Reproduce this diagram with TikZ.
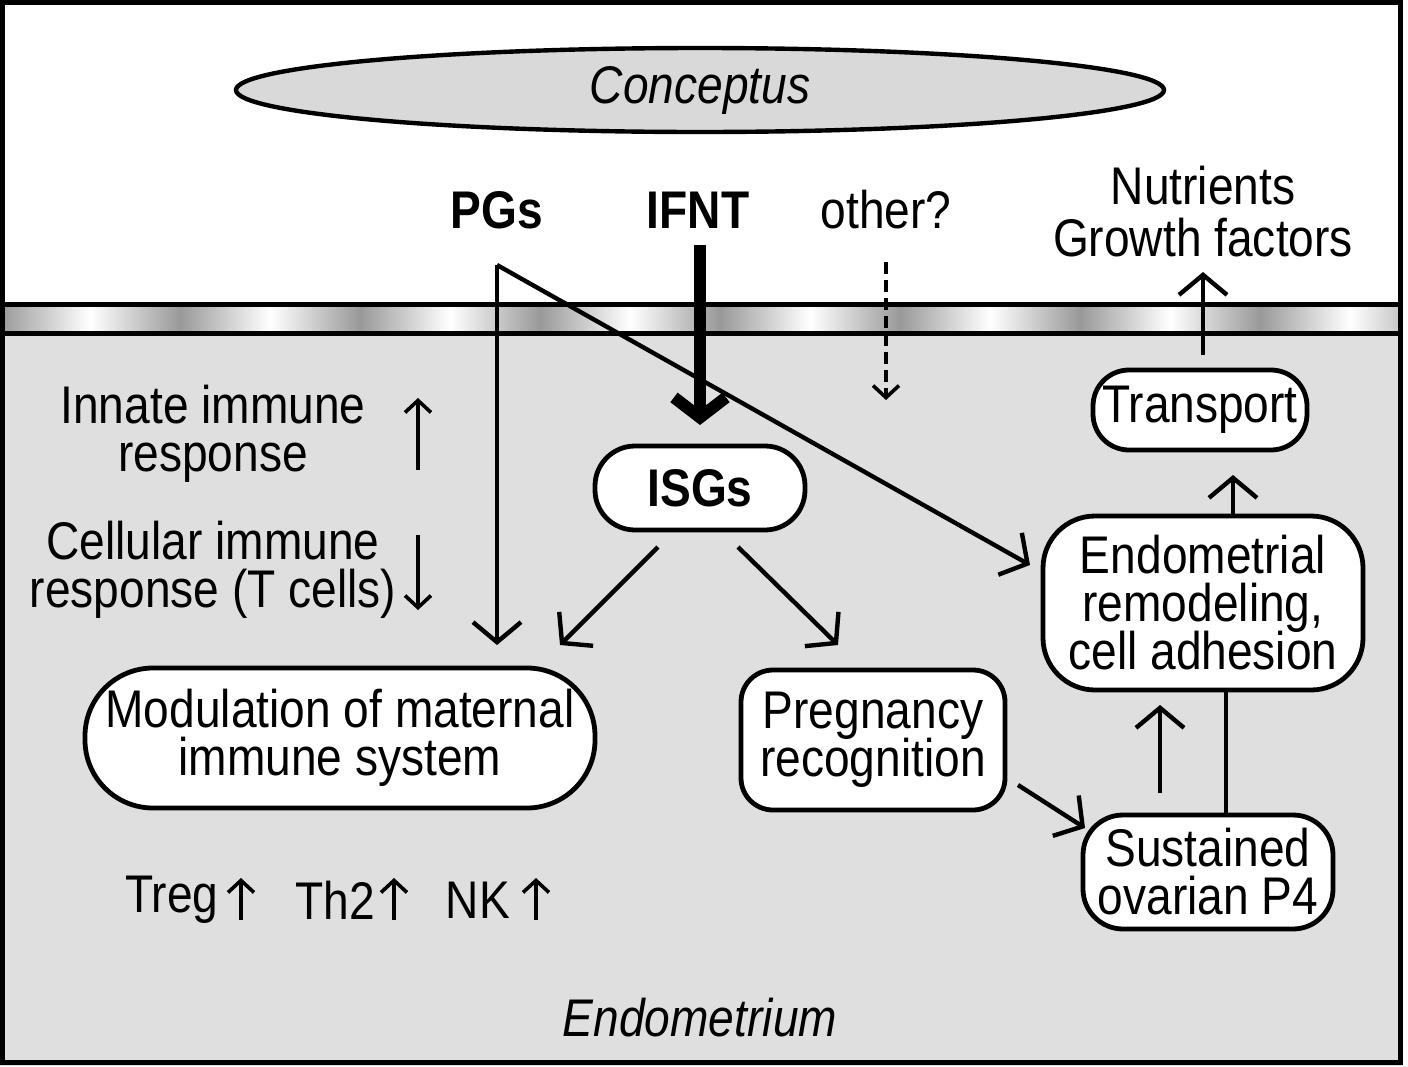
\documentclass[tikz,border=0pt]{standalone}
\usepackage{fontspec}
\setmainfont{Liberation Sans}[FakeStretch=0.87]
\usetikzlibrary{arrows.meta,shapes.geometric}
\begin{document}
\begin{tikzpicture}[x=0.5pt,y=-0.5pt,
  txt/.style={font=\fontsize{26.5}{28}\selectfont,align=center,inner sep=0pt},
  box/.style={txt,draw,line width=2.4pt,fill=white},
  arr/.style={line width=2.2pt,-{Straight Barb[length=10pt,width=24pt,line width=2.2pt]}},
  small/.style={line width=1.8pt,-{Straight Barb[length=6pt,width=13pt,line width=1.8pt]}}]
\useasboundingbox (0,0) rectangle (1408,1066);
\fill[white] (0,0) rectangle (1402,318);
\fill[gray!25] (0,318) rectangle (1402,1066);
% membrane
\foreach \i in {0,...,7}{
  \shade[left color=gray!80,right color=white] (\i*180,306) rectangle (\i*180+90,331);
  \shade[left color=white,right color=gray!80] (\i*180+90,306) rectangle (\i*180+180,331);
}
\fill[white] (1402,0) rectangle (1408,1066);
\draw[line width=2.5pt] (0,304)--(1400,304) (0,333)--(1400,333);
\draw[line width=2.5pt] (2,2) rectangle (1400,1062);
% ellipse
\node[ellipse,draw,line width=2.2pt,fill=gray!30,minimum width=464pt,minimum height=42pt,inner sep=0,txt,font=\fontsize{26.5}{28}\selectfont\itshape] (con) at (700,90) {Conceptus};
\node[txt,font=\fontsize{26.5}{28}\selectfont\bfseries] (pg) at (497,210) {PGs};
\node[txt,font=\fontsize{26.5}{28}\selectfont\bfseries] (ifnt) at (698,210) {IFNT};
\node[txt] (oth) at (886,210) {other?};
\node[txt] (nut) at (1203,212) {Nutrients\\[-2pt]Growth factors};
\coordinate (pgc) at (497,265);
\coordinate (pgd) at (497,645);
\coordinate (ifa) at (700,245);
\coordinate (ifb) at (700,425);
\coordinate (oa) at (886,262);
\coordinate (ob) at (886,400);
% boxes
\node[box,minimum width=105pt,minimum height=42pt,rounded corners=20pt,font=\fontsize{26.5}{28}\selectfont\bfseries] (isg) at (700,488) {ISGs};
\node[box,minimum width=255pt,minimum height=70pt,rounded corners=34pt] (mod) at (340,738) {Modulation of maternal\\[-4pt]immune system};
\node[box,minimum width=132pt,minimum height=70pt,rounded corners=16pt] (preg) at (873,740) {Pregnancy\\[-4pt]recognition};
\node[box,minimum width=107pt,minimum height=40pt,rounded corners=18pt] (tr) at (1200,410) {Transport};
\node[box,minimum width=160pt,minimum height=87pt,rounded corners=26pt] (endo) at (1203,603) {Endometrial\\[-4pt]remodeling,\\[-4pt]cell adhesion};
\node[box,minimum width=125pt,minimum height=57pt,rounded corners=20pt] (sus) at (1208,872) {Sustained\\[-4pt]ovarian P4};
% left labels
\node[txt] (inn) at (213,434) {Innate immune\\[-4pt]response};
\node[txt] (cel) at (213,570) {Cellular immune\\[-4pt]response (T cells)};
\coordinate (u1) at (418,470); \coordinate (u2) at (418,398);
\coordinate (d1) at (418,535); \coordinate (d2) at (418,610);
\draw[small] (u1)--(u2);
\draw[small] (d1)--(d2);
\node[txt] (treg) at (172,900) {Treg};
\node[txt] (th2) at (335,900) {Th2};
\node[txt] (nk) at (478,900) {NK};
\coordinate (a1) at (241,920); \coordinate (a2) at (241,878);
\coordinate (b1) at (394,920); \coordinate (b2) at (394,878);
\coordinate (c1) at (536,920); \coordinate (c2) at (536,878);
\draw[small] (a1)--(a2);
\draw[small] (b1)--(b2);
\draw[small] (c1)--(c2);
\node[txt,font=\fontsize{26.5}{28}\selectfont\itshape] (endm) at (700,1018) {Endometrium};
% arrows
\draw[arr] (pgc)--(pgd);
\coordinate (ediag) at (1030,565);
\draw[arr] (pgc)--(ediag);
\draw[line width=6pt,-{Straight Barb[length=10pt,width=26pt,line width=6pt]}] (ifa)--(ifb);
\draw[line width=1.8pt,dash pattern=on 6pt off 3pt,-{Straight Barb[length=6pt,width=13pt,line width=1.8pt]}] (oa)--(ob);
\coordinate (i1) at (658,547); \coordinate (i2) at (560,645);
\coordinate (i3) at (738,547); \coordinate (i4) at (838,645);
\draw[arr] (i1)--(i2);
\draw[arr] (i3)--(i4);
\coordinate (p1) at (1018,785); \coordinate (p2) at (1085,828);
\draw[arr] (p1)--(p2);
\coordinate (s1) at (1160,793); \coordinate (s2) at (1160,705);
\draw[arr] (s1)--(s2);
\coordinate (s3) at (1226,815); \coordinate (s4) at (1226,690);
\draw[line width=2.2pt] (s3)--(s4);
\coordinate (e1) at (1233,515); \coordinate (e2) at (1233,475);
\draw[arr] (e1)--(e2);
\coordinate (t1) at (1203,355); \coordinate (t2) at (1203,272);
\draw[arr] (t1)--(t2);
\end{tikzpicture}
\end{document}
